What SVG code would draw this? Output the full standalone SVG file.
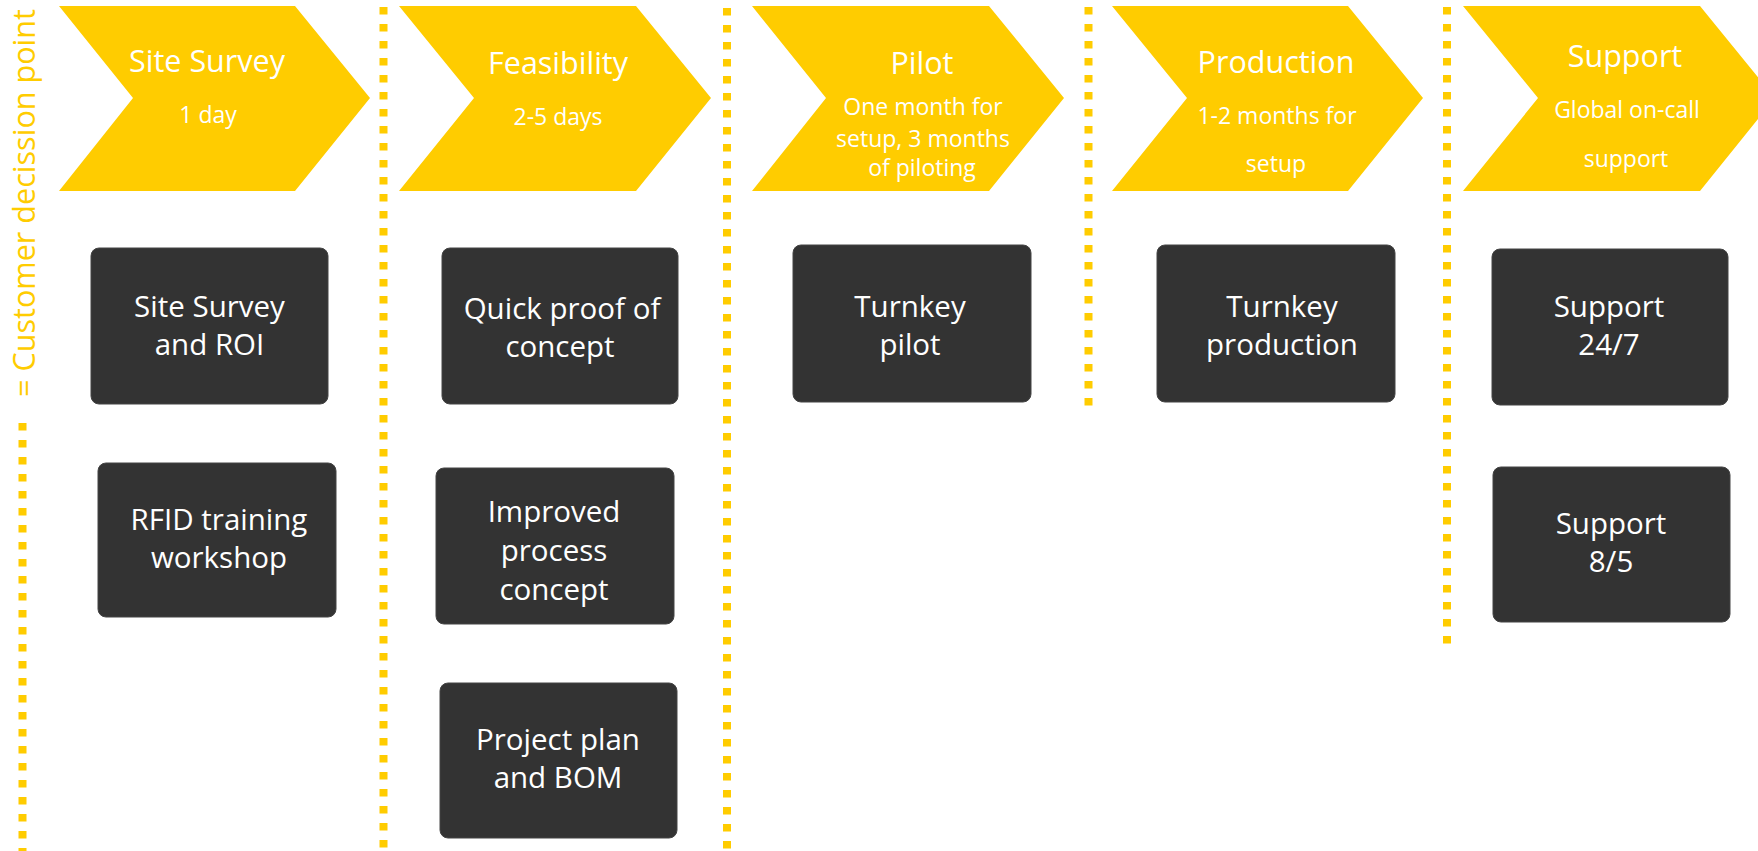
<svg xmlns="http://www.w3.org/2000/svg" width="1758" height="851" viewBox="0 0 1758 851">
<style>
.chev{fill:#FFCC00}
.box{fill:#333333;stroke:#444444;stroke-width:1}
.dot{stroke:#FFCC00;stroke-width:8;stroke-dasharray:7.5 9.5;fill:none}
text{font-family:"Open Sans","Noto Sans","Liberation Sans",sans-serif;text-anchor:middle}
.ttl{fill:#ffffff;font-size:30.5px}
.sub{fill:#ffffff;font-size:23px}
.bt{fill:#ffffff;font-size:29.5px}
.side{fill:#FFCC00;font-size:31px;text-anchor:start}
</style>
<rect width="1758" height="851" fill="#ffffff"/>
<g id="connectors">
<line class="dot" x1="22.5" y1="423" x2="22.5" y2="851"/>
<line class="dot" x1="383.5" y1="7" x2="383.5" y2="851"/>
<line class="dot" x1="727" y1="8" x2="727" y2="851"/>
<line class="dot" x1="1088.5" y1="7" x2="1088.5" y2="407"/>
<line class="dot" x1="1447" y1="7" x2="1447" y2="645"/>
</g>
<g id="legend">
<text class="side" transform="translate(35,397) rotate(-90)" textLength="388" lengthAdjust="spacingAndGlyphs">= Customer decission point</text>
</g>
<g id="phase-site-survey">
<polygon class="chev" points="59,6 295,6 370,98 295,191 59,191 133,98"/>
<text class="ttl" x="207" y="72">Site Survey</text>
<text class="sub" x="208" y="123">1 day</text>
</g>
<g id="phase-feasibility">
<polygon class="chev" points="399,6 636,6 711,98 636,191 399,191 474,98"/>
<text class="ttl" x="558" y="74">Feasibility</text>
<text class="sub" x="558" y="125">2-5 days</text>
</g>
<g id="phase-pilot">
<polygon class="chev" points="752,6 989,6 1064,98 989,191 752,191 826,98"/>
<text class="ttl" x="922" y="74">Pilot</text>
<text class="sub" x="923" y="115">One month for</text>
<text class="sub" x="923" y="147">setup, 3 months</text>
<text class="sub" x="922" y="176">of piloting</text>
</g>
<g id="phase-production">
<polygon class="chev" points="1112,6 1348,6 1423,98 1348,191 1112,191 1187,98"/>
<text class="ttl" x="1276" y="73">Production</text>
<text class="sub" x="1277" y="124">1-2 months for</text>
<text class="sub" x="1276" y="172">setup</text>
</g>
<g id="phase-support">
<polygon class="chev" points="1463,6 1700,6 1775,98 1700,191 1463,191 1538,98"/>
<text class="ttl" x="1625" y="67">Support</text>
<text class="sub" x="1627" y="118">Global on-call</text>
<text class="sub" x="1626" y="167">support</text>
</g>
<g id="site-survey-roi">
<rect class="box" x="91" y="248" width="237" height="156" rx="8"/>
<text class="bt" x="209.5" y="317">Site Survey</text>
<text class="bt" x="209.5" y="355">and ROI</text>
</g>
<g id="rfid-training">
<rect class="box" x="98" y="463" width="238" height="154" rx="8"/>
<text class="bt" x="219" y="530">RFID training</text>
<text class="bt" x="219" y="568">workshop</text>
</g>
<g id="quick-proof">
<rect class="box" x="442" y="248" width="236" height="156" rx="8"/>
<text class="bt" x="562" y="319">Quick proof of</text>
<text class="bt" x="560" y="357">concept</text>
</g>
<g id="improved-process">
<rect class="box" x="436" y="468" width="238" height="156" rx="8"/>
<text class="bt" x="554" y="522">Improved</text>
<text class="bt" x="554" y="561">process</text>
<text class="bt" x="554" y="600">concept</text>
</g>
<g id="project-plan">
<rect class="box" x="440" y="683" width="237" height="155" rx="8"/>
<text class="bt" x="558" y="750">Project plan</text>
<text class="bt" x="558" y="788">and BOM</text>
</g>
<g id="turnkey-pilot">
<rect class="box" x="793" y="245" width="238" height="157" rx="8"/>
<text class="bt" x="910" y="317">Turnkey</text>
<text class="bt" x="910" y="355">pilot</text>
</g>
<g id="turnkey-production">
<rect class="box" x="1157" y="245" width="238" height="157" rx="8"/>
<text class="bt" x="1282" y="317">Turnkey</text>
<text class="bt" x="1282" y="355">production</text>
</g>
<g id="support-247">
<rect class="box" x="1492" y="249" width="236" height="156" rx="8"/>
<text class="bt" x="1609" y="317">Support</text>
<text class="bt" x="1609" y="355">24/7</text>
</g>
<g id="support-85">
<rect class="box" x="1493" y="467" width="237" height="155" rx="8"/>
<text class="bt" x="1611" y="534">Support</text>
<text class="bt" x="1611" y="572">8/5</text>
</g>
</svg>
